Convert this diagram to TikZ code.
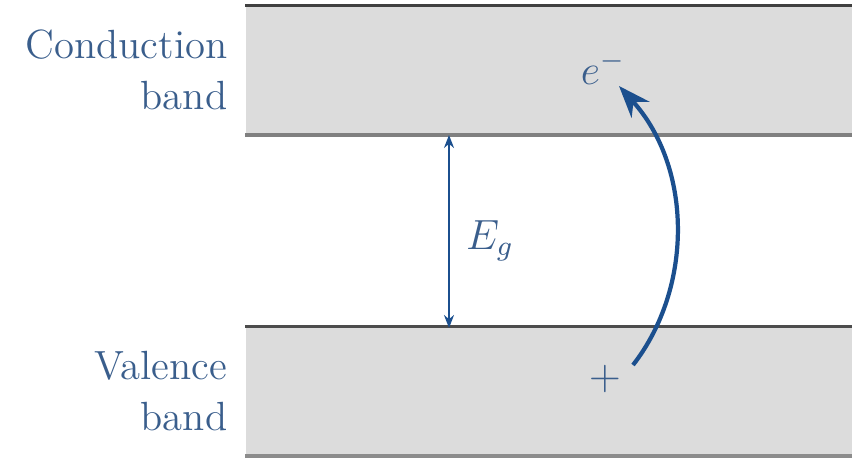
\documentclass[tikz,border=0pt]{standalone}
\usepackage{xcolor}
\usetikzlibrary{positioning, arrows.meta, calc}
\definecolor{bandgray}{HTML}{DCDCDC}
\definecolor{labelblue}{HTML}{3A5E8C}
\definecolor{arrowblue}{HTML}{1B4F8E}

\begin{document}
\begin{tikzpicture}[
    band/.style={rectangle, fill=bandgray, inner sep=0pt, minimum width=6.07cm, minimum height=1.28cm, anchor=south west},
    edge/.style={line width=0.9pt, black!70},
    lbl/.style={align=right, anchor=east, inner sep=0pt, text=labelblue, font=\rmfamily\fontsize{11.6}{14.6}\selectfont},
    gap/.style={{Stealth[length=1.3mm, width=1mm]}-{Stealth[length=1.3mm, width=1mm]}, line width=0.6pt, draw=labelblue!90!gray, arrowblue},
    jump/.style={-{Stealth[length=3.2mm, width=2.4mm]}, line width=1.2pt, arrowblue},
]
\useasboundingbox (0,0) rectangle (8.52,4.58);

% Bands
\node[band] (cb) at (2.45,3.23) {};
\node[band] (vb) at (2.45,0.02) {};
\draw[edge, black!75] (cb.north west) -- (cb.north east);
\draw[edge, black!50] (cb.south west) -- (cb.south east);
\draw[edge, black!70] (vb.north west) -- (vb.north east);
\draw[edge, black!45] (vb.south west) -- (vb.south east);

% Band labels
\node[lbl] (cbl) at (2.28,3.88) {Conduction\\band};
\node[lbl] (vbl) at (2.28,0.67) {Valence\\band};

% Energy gap
\coordinate (gtop) at (4.49,3.23);
\coordinate (gbot) at (4.49,1.30);
\draw[gap] (gbot) -- (gtop);
\node[text=labelblue, font=\fontsize{12}{14}\selectfont] (eg) at (4.90,2.17) {$E_g$};

% Electron jump
\node[text=labelblue, font=\fontsize{12}{14}\selectfont] (hole) at (6.05,0.79) {$+$};
\node[text=labelblue, font=\fontsize{12}{14}\selectfont] (elec) at (6.03,3.90) {$e^-$};
\coordinate (jstart) at (6.33,0.93);
\coordinate (jend) at (6.19,3.72);
\draw[jump] (jstart) .. controls (6.93,1.70) and (6.93,2.90) .. (jend);

\end{tikzpicture}
\end{document}
